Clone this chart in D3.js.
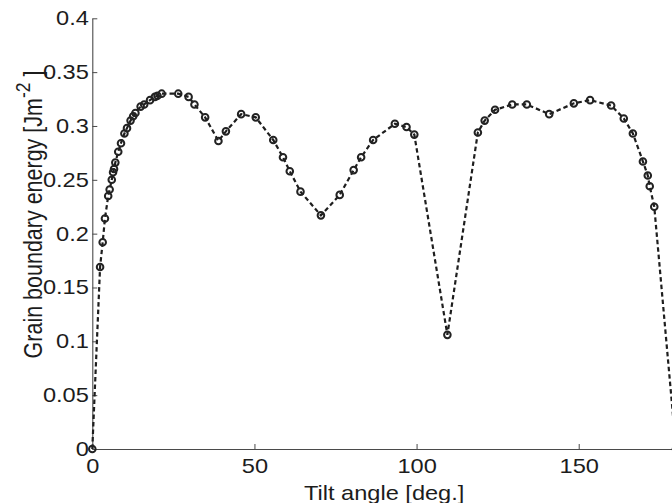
<!DOCTYPE html>
<html><head><meta charset="utf-8">
<script src="https://cdn.jsdelivr.net/npm/d3@7"></script>
<style>
body{margin:0;background:#fff;overflow:hidden;}
svg{display:block;}
text{font-family:"Liberation Sans",Arial,Helvetica,sans-serif;fill:#1c1c1c;}
</style>
</head><body>
<svg id="chart" width="672" height="503"></svg>
<script>
// ---- data ----
const tiltAngle = [0, 2.4, 3.2, 3.9, 4.9, 5.35, 6.0, 6.4, 6.7, 7.1, 8.0, 8.85, 9.9, 10.7, 11.8, 12.6, 13.3,
  14.9, 16.0, 17.8, 19.3, 20.1, 21.4, 26.5, 29.7, 31.5, 34.8, 38.9, 41.2, 45.9, 50.4, 55.8, 58.8,
  60.9, 64.2, 70.5, 76.3, 80.6, 82.9, 86.6, 93.3, 96.9, 99.3, 109.5, 118.9, 121.0, 124.2, 129.5,
  134.0, 140.9, 148.5, 153.5, 160.0, 163.9, 166.7, 169.8, 171.3, 171.9, 173.3, 180];
const energy = [0, 0.169, 0.192, 0.214, 0.235, 0.241, 0.250, 0.257, 0.260, 0.266, 0.276, 0.284, 0.293, 0.298, 0.305, 0.309, 0.312,
  0.318, 0.320, 0.324, 0.327, 0.328, 0.330, 0.330, 0.327, 0.320, 0.308, 0.286, 0.295, 0.311, 0.308, 0.287, 0.271,
  0.258, 0.239, 0.217, 0.236, 0.259, 0.271, 0.287, 0.302, 0.299, 0.292, 0.106, 0.294, 0.305, 0.315, 0.320,
  0.320, 0.311, 0.321, 0.324, 0.319, 0.307, 0.293, 0.267, 0.254, 0.244, 0.225, 0];
const xTicks = [0, 50, 100, 150];
const yTicks = [0, 0.05, 0.1, 0.15, 0.2, 0.25, 0.3, 0.35, 0.4];
const yTickLabels = ["0", "0.05", "0.1", "0.15", "0.2", "0.25", "0.3", "0.35", "0.4"];
const xLabel = "Tilt angle [deg.]";
const yLabelMain = "Grain boundary energy [Jm";
const yLabelSup = "-2";
const yLabelEnd = " ]";

// ---- layout ----
const svg = d3.select("#chart");
const X0 = 92.3, X1 = 676.0, Y0 = 449, Y1 = 18.3;
const SX = 1.18; // horizontal glyph stretch seen in the reference
const x = d3.scaleLinear().domain([0, 180]).range([X0, X1]);
const y = d3.scaleLinear().domain([0, 0.4]).range([Y0, Y1]);
const pts = tiltAngle.map((a, i) => [a, energy[i]]);

// axes
const axisColor = "#4a4a4a";
const gx = svg.append("g").attr("transform", `translate(0,${Y0})`)
  .call(d3.axisBottom(x).tickValues(xTicks).tickFormat(d3.format("d")).tickSize(-5).tickSizeOuter(0).tickPadding(10));
gx.select(".domain").attr("stroke", axisColor).attr("stroke-width", 1.1);
gx.selectAll(".tick line").attr("stroke", axisColor);
gx.selectAll(".tick text").attr("font-size", 20).attr("fill", "#1c1c1c")
  .attr("font-family", '"Liberation Sans",Arial,sans-serif')
  .attr("transform", `scale(${SX},1)`);

const gy = svg.append("g").attr("transform", `translate(${X0},0)`)
  .call(d3.axisLeft(y).tickValues(yTicks).tickFormat((d, i) => yTickLabels[i]).tickSize(-5).tickSizeOuter(0).tickPadding(3));
gy.select(".domain").attr("stroke", axisColor).attr("stroke-width", 1.1);
gy.selectAll(".tick line").attr("stroke", axisColor);
gy.selectAll(".tick text").attr("font-size", 20).attr("fill", "#1c1c1c")
  .attr("font-family", '"Liberation Sans",Arial,sans-serif')
  .attr("x", -3.5 / SX)
  .attr("transform", `scale(${SX},1)`);

// line
svg.append("path")
  .datum(pts)
  .attr("d", d3.line().x(d => x(d[0])).y(d => y(d[1])))
  .attr("fill", "none")
  .attr("stroke", "#1e1e1e")
  .attr("stroke-width", 2.2)
  .attr("stroke-dasharray", "4.5,3");

// markers
svg.append("g").selectAll("circle").data(pts).join("circle")
  .attr("cx", d => x(d[0])).attr("cy", d => y(d[1]))
  .attr("r", 3.3)
  .attr("fill", "none")
  .attr("stroke", "#222")
  .attr("stroke-width", 2);

// axis labels
svg.append("text")
  .attr("transform", `translate(${(X0 + X1) / 2},500) scale(${SX},1)`)
  .attr("text-anchor", "middle")
  .attr("font-size", 20)
  .text(xLabel);

const yl = svg.append("text")
  .attr("transform", `translate(42,214.5) rotate(-90) scale(1,${SX})`)
  .attr("text-anchor", "middle")
  .attr("font-size", 21.5);
yl.append("tspan").text(yLabelMain);
yl.append("tspan").attr("font-size", 17.5).attr("dy", -10).text(yLabelSup);
yl.append("tspan").attr("dy", 10).text(yLabelEnd);
</script>
</body></html>
